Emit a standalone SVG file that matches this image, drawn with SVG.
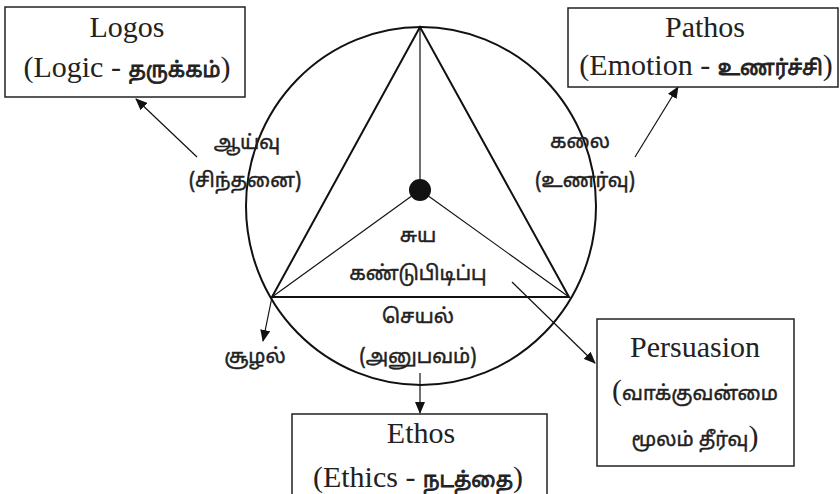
<svg xmlns="http://www.w3.org/2000/svg" width="840" height="494" viewBox="0 0 840 494">
<style>
.box{fill:#fff;stroke:#222;stroke-width:1.5}
.en{font-family:"Liberation Serif","Times New Roman",serif;font-size:30px;fill:#222;text-anchor:middle}
.ta{font-family:"Noto Sans Tamil","Noto Sans","Lohit Tamil",sans-serif;font-size:20px;fill:#222;stroke:#222;stroke-width:0.45;text-anchor:middle}
.tas{font-family:"Noto Sans Tamil","Noto Sans","Lohit Tamil",sans-serif;font-size:21px;stroke:#222;stroke-width:0.8}
.tap{font-family:"Noto Sans Tamil","Noto Sans","Lohit Tamil",sans-serif;font-size:20px;stroke:#222;stroke-width:0.45}
.thick{fill:none;stroke:#111;stroke-width:2}
.thin{fill:none;stroke:#111;stroke-width:1.2}
.arr{fill:none;stroke:#111;stroke-width:1.2;marker-end:url(#ah)}
</style>
<defs>
<marker id="ah" markerWidth="12" markerHeight="10" refX="11" refY="5" orient="auto" markerUnits="userSpaceOnUse">
<path d="M0,0 L12,5 L0,10 Z" fill="#111"/>
</marker>
</defs>
<rect width="840" height="494" fill="#fff"/>
<g id="wheel">
<ellipse cx="421" cy="206" rx="175" ry="179" class="thick" stroke-width="1.8"/>
<polygon points="420,27 272,297 569,297" class="thick"/>
<line x1="420" y1="27" x2="420" y2="190" class="thin"/>
<line x1="420" y1="190" x2="272" y2="297" class="thin"/>
<line x1="420" y1="190" x2="569" y2="297" class="thin"/>
<circle cx="420" cy="190" r="11" fill="#111"/>
</g>
<g id="connectors">
<line x1="197" y1="157" x2="136" y2="99" class="arr"/>
<line x1="635" y1="157" x2="678" y2="87" class="arr"/>
<line x1="272" y1="297" x2="263" y2="341" class="arr"/>
<line x1="420" y1="373" x2="420" y2="413" class="arr"/>
<line x1="512" y1="282" x2="595" y2="363" class="arr"/>
</g>
<g id="logos">
<rect x="5" y="7" width="240" height="90" class="box"/>
<text x="127" y="37" class="en">Logos</text>
<text x="127" y="77" class="en">(Logic - <tspan class="tas">தருக்கம்</tspan>)</text>
</g>
<g id="pathos">
<rect x="568" y="8" width="270" height="79" class="box"/>
<text x="705" y="37" class="en">Pathos</text>
<text x="706" y="75" class="en">(Emotion - <tspan class="tas">உணர்ச்சி</tspan>)</text>
</g>
<g id="ethos">
<rect x="292" y="414" width="255" height="90" class="box"/>
<text x="421" y="443" class="en">Ethos</text>
<text x="418" y="487" class="en">(Ethics - <tspan class="tas">நடத்தை</tspan>)</text>
</g>
<g id="persuasion">
<rect x="597" y="319" width="197" height="147" class="box"/>
<text x="695" y="357" class="en">Persuasion</text>
<text x="695" y="400" class="en">(<tspan class="tap">வாக்குவன்மை</tspan></text>
<text x="695" y="446" class="en"><tspan class="tap">மூலம் தீர்வு</tspan>)</text>
</g>
<g id="aayvu">
<text x="247" y="149" class="ta" font-size="22">ஆய்வு</text>
<text x="245" y="187" class="ta">(சிந்தனை)</text>
</g>
<g id="kalai">
<text x="580" y="148" class="ta">கலை</text>
<text x="585" y="187" class="ta">(உணர்வு)</text>
</g>
<g id="suya">
<text x="418" y="242" class="ta">சுய</text>
<text x="418" y="280" class="ta">கண்டுபிடிப்பு</text>
</g>
<g id="seyal">
<text x="418" y="323" class="ta">செயல்</text>
<text x="418" y="363" class="ta">(அனுபவம்)</text>
</g>
<g id="soozhal">
<text x="255" y="363" class="ta">சூழல்</text>
</g>
</svg>
